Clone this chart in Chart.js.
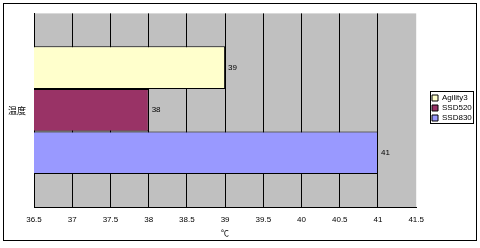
<!DOCTYPE html>
<html>
<head>
<meta charset="utf-8">
<script src="https://cdn.jsdelivr.net/npm/chart.js@4/dist/chart.umd.min.js"></script>
<style>
  html, body { margin: 0; padding: 0; background: #fff; }
  #wrap { width: 480px; height: 248px; }
</style>
</head>
<body>
<div id="wrap"><canvas id="myChart" width="480" height="248"></canvas></div>
<script>
const categories = ["温度"];
const seriesNames = ["Agility3", "SSD520", "SSD830"];
const agility3 = [39];
const ssd520 = [38];
const ssd830 = [41];
const seriesColors = ["#FFFFCC", "#993366", "#9999FF"];
const xTicks = [36.5, 37, 37.5, 38, 38.5, 39, 39.5, 40, 40.5, 41, 41.5];

const FONT = "'Liberation Sans', sans-serif";
const CJK = "'Noto Sans CJK JP', sans-serif";

// gray plot background, outer frame, legend frame, value labels
const extras = {
    id: "extras",
    afterLayout(chart) {
        // tuck the legend into the right edge of the frame
        const lg = chart.legend;
        const w = lg.right - lg.left;
        const h = lg.bottom - lg.top;
        lg.left = 430;
        lg.right = 430 + w;
        lg.top = 92;
        lg.bottom = 92 + h;
    },
    beforeDraw(chart) {
        const { ctx, chartArea: a } = chart;
        ctx.save();
        ctx.fillStyle = "#fff";
        ctx.fillRect(0, 0, chart.width, chart.height);
        ctx.fillStyle = "#C0C0C0";
        ctx.fillRect(a.left, a.top, a.right - a.left, a.bottom - a.top);
        ctx.restore();
    },
    afterDatasetsDraw(chart) {
        const ctx = chart.ctx;
        ctx.save();
        ctx.font = "8px " + FONT;
        ctx.fillStyle = "#000";
        ctx.textBaseline = "middle";
        chart.data.datasets.forEach((ds, i) => {
            chart.getDatasetMeta(i).data.forEach((bar, j) => {
                ctx.fillText(String(ds.data[j]), bar.x + 3, bar.y);
            });
        });
        ctx.restore();
    },
    afterDraw(chart) {
        const ctx = chart.ctx;
        ctx.save();
        ctx.strokeStyle = "#000";
        ctx.lineWidth = 1;
        ctx.strokeRect(3.5, 3.5, 473, 237);
        const boxes = chart.legend.legendHitBoxes;
        if (boxes && boxes.length) {
            const l = Math.min(...boxes.map(b => b.left));
            const t = Math.min(...boxes.map(b => b.top));
            const b = Math.max(...boxes.map(b => b.top + b.height));
            ctx.strokeRect(Math.round(l) - 1.5, Math.round(t) - 2.5, 43, Math.round(b - t) + 4);
        }
        ctx.restore();
    },
};

new Chart(document.getElementById("myChart"), {
    type: "bar",
    data: {
        labels: categories,
        datasets: [
            { label: seriesNames[0], data: agility3, backgroundColor: seriesColors[0] },
            { label: seriesNames[1], data: ssd520, backgroundColor: seriesColors[1] },
            { label: seriesNames[2], data: ssd830, backgroundColor: seriesColors[2] },
        ],
    },
    options: {
        indexAxis: "y",
        responsive: false,
        animation: false,
        layout: { padding: { top: 8, bottom: 7, left: 4, right: 12 } },
        datasets: {
            bar: {
                borderColor: "#000",
                borderWidth: 1,
                borderSkipped: false,
                categoryPercentage: 0.66,
                barPercentage: 1,
            },
        },
        plugins: {
            legend: {
                position: "right",
                align: "start",
                labels: {
                    boxWidth: 6,
                    boxHeight: 6,
                    padding: 2,
                    color: "#000",
                    font: { size: 8, family: FONT },
                },
            },
            tooltip: { enabled: false },
        },
        scales: {
            x: {
                min: 36.5,
                max: 41.5,
                afterBuildTicks: (scale) => {
                    scale.ticks = xTicks.map(v => ({ value: v }));
                },
                afterFit: (scale) => { scale.height = 34; },
                ticks: {
                    color: "#000",
                    padding: 8,
                    maxRotation: 0,
                    font: { size: 8, family: FONT },
                    callback: (v) => String(v),
                },
                grid: {
                    drawTicks: false,
                    color: (c) => (c.index === 0 || c.index === xTicks.length - 1) ? "rgba(0,0,0,0)" : "#000",
                },
                border: { display: true, color: "#000" },
                title: {
                    display: true,
                    text: "℃",
                    color: "#000",
                    padding: { top: 0, bottom: 3 },
                    font: { size: 8, family: CJK },
                },
            },
            y: {
                afterFit: (scale) => { scale.width = 30; },
                ticks: {
                    color: "#000",
                    padding: 8,
                    font: { size: 9, family: CJK },
                },
                grid: { display: false, drawTicks: false },
                border: { display: true, color: "#000" },
            },
        },
    },
    plugins: [extras],
});
</script>
</body>
</html>
